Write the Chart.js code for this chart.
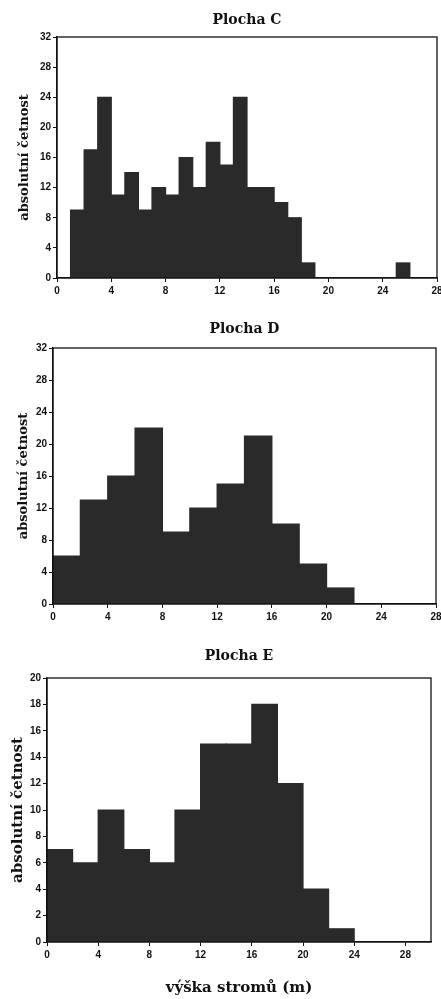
<!DOCTYPE html>
<html><head><meta charset="utf-8">
<script src="https://cdn.jsdelivr.net/npm/chart.js@4.4.1/dist/chart.umd.min.js"></script>
<style>
html,body{margin:0;padding:0;background:#fff;width:441px;height:999px;overflow:hidden}
.box{position:absolute;left:0;width:441px}
</style></head><body>
<div class="box" style="top:0;height:305px"><canvas id="cC"></canvas></div>
<div class="box" style="top:300px;height:331px"><canvas id="cD"></canvas></div>
<div class="box" style="top:630px;height:369px"><canvas id="cE"></canvas></div>
<script>
// ---- data ----
const titles = ["Plocha C", "Plocha D", "Plocha E"];
const yTitle = "absolutní četnost";
const xTitle = "výška stromů (m)";

// Plocha C: 1 m classes, lower bounds
const binStartC = [1,2,3,4,5,6,7,8,9,10,11,12,13,14,15,16,17,18,19,20,21,22,23,24,25];
const countsC   = [9,17,24,11,14,9,12,11,16,12,18,15,24,12,12,10,8,2,0,0,0,0,0,0,2];
const binWidthC = 1;

// Plocha D: 2 m classes
const binStartD = [0,2,4,6,8,10,12,14,16,18,20];
const countsD   = [6,13,16,22,9,12,15,21,10,5,2];
const binWidthD = 2;

// Plocha E: 2 m classes
const binStartE = [0,2,4,6,8,10,12,14,16,18,20,22];
const countsE   = [7,6,10,7,6,10,15,15,18,12,4,1];
const binWidthE = 2;

const xTicksCD = [0,4,8,12,16,20,24,28];
const xTicksE  = [0,4,8,12,16,20,24,28];
const yTicksCD = [0,4,8,12,16,20,24,28,32];
const yTicksE  = [0,2,4,6,8,10,12,14,16,18,20];

// ---- drawing ----
const frame = {
  id: 'frame',
  afterDatasetsDraw(chart) {
    const {ctx, chartArea: a} = chart;
    ctx.save();
    ctx.strokeStyle = '#111';
    ctx.lineWidth = 1.3;
    ctx.strokeRect(a.left, a.top, a.right - a.left, a.bottom - a.top);
    ctx.restore();
  }
};

const tickFont = {family: "'Liberation Sans', Arial, sans-serif", size: 10, weight: 'bold'};
const serif = "'DejaVu Serif', serif";

function make(id, L) {
  const pts = L.starts.map((s, i) => ({x: s + L.width / 2, y: L.counts[i]}));
  return new Chart(document.getElementById(id), {
    type: 'bar',
    data: { datasets: [{
      data: pts,
      backgroundColor: '#2a2a2a',
      borderWidth: 0,
      inflateAmount: 0.6,
      barPercentage: 1,
      categoryPercentage: 1,
      grouped: false
    }]},
    options: {
      responsive: true, maintainAspectRatio: false, animation: false,
      layout: {autoPadding: false, padding: {left: 0, right: L.padRight, top: 0, bottom: 0}},
      plugins: {
        legend: {display: false}, tooltip: {enabled: false},
        title: {display: true, text: L.title, fullSize: false, color: '#111',
          font: {family: serif, size: 14, weight: 'bold', lineHeight: 1},
          padding: {top: L.titleTop, bottom: L.titleBottom}}
      },
      scales: {
        x: {
          type: 'linear', min: 0, max: L.xMax, offset: false,
          afterBuildTicks: s => { s.ticks = L.xTicks.map(v => ({value: v})); },
          afterFit: s => { s.height = L.xHeight; s.paddingLeft = 0; s.paddingRight = 0; },
          ticks: {font: tickFont, color: '#111', padding: 3, maxRotation: 0, autoSkip: false},
          grid: {display: true, drawOnChartArea: false, offset: false, tickLength: 4, color: '#111'},
          border: {display: true, color: '#111', width: 1.3},
          title: L.xTitle ? {display: true, text: L.xTitle, color: '#111',
            font: {family: serif, size: 15, weight: 'bold', lineHeight: 1},
            padding: {top: 0, bottom: L.xTitlePad}} : {display: false}
        },
        y: {
          min: 0, max: L.yMax,
          afterBuildTicks: s => { s.ticks = L.yTicks.map(v => ({value: v})); },
          afterFit: s => { s.width = L.yWidth; s.paddingTop = 0; s.paddingBottom = 0; },
          ticks: {font: tickFont, color: '#111', padding: 2},
          grid: {display: true, drawOnChartArea: false, tickLength: 4, color: '#111'},
          border: {display: true, color: '#111', width: 1.3},
          title: {display: true, text: yTitle, color: '#111',
            font: {family: serif, size: L.yTitleSize, weight: 'bold', lineHeight: 1},
            padding: {top: L.yTitlePad, bottom: 0}}
        }
      }
    },
    plugins: [frame]
  });
}

make('cC', {starts: binStartC, counts: countsC, width: binWidthC, title: titles[0],
  xMax: 28, yMax: 32, xTicks: xTicksCD, yTicks: yTicksCD,
  padRight: 4, titleTop: 13, titleBottom: 10, xHeight: 27, yWidth: 57,
  yTitleSize: 13, yTitlePad: 18});
make('cD', {starts: binStartD, counts: countsD, width: binWidthD, title: titles[1],
  xMax: 28, yMax: 32, xTicks: xTicksCD, yTicks: yTicksCD,
  padRight: 5, titleTop: 22, titleBottom: 12, xHeight: 27, yWidth: 53,
  yTitleSize: 13, yTitlePad: 17});
make('cE', {starts: binStartE, counts: countsE, width: binWidthE, title: titles[2],
  xMax: 30, yMax: 20, xTicks: xTicksE, yTicks: yTicksE,
  padRight: 10, titleTop: 19, titleBottom: 15, xHeight: 57, yWidth: 47,
  yTitleSize: 15, yTitlePad: 11, xTitle: xTitle, xTitlePad: 3});
</script>
</body></html>
